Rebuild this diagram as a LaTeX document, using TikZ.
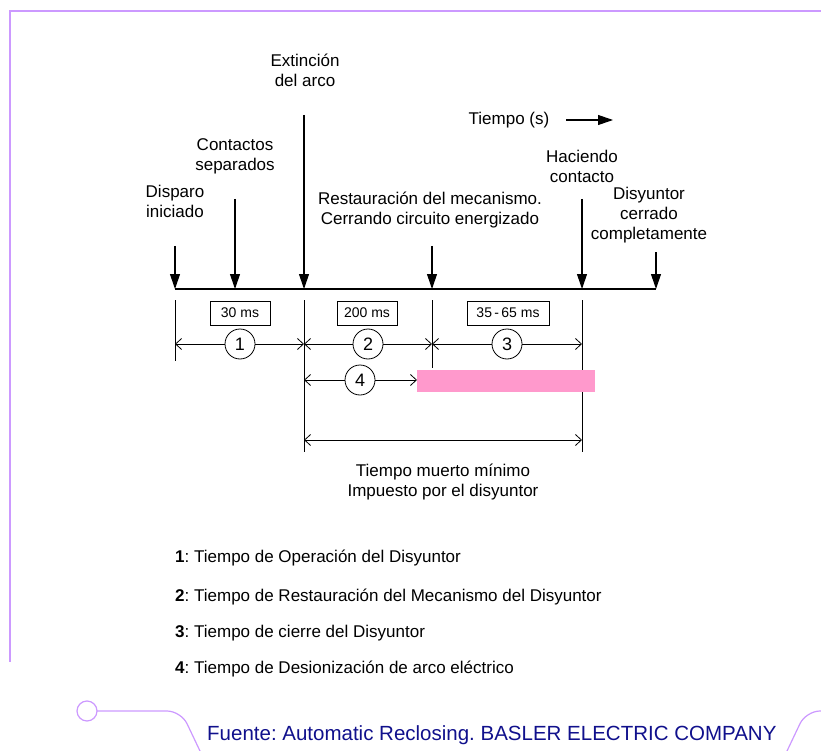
\documentclass[tikz,border=0pt]{standalone}
\usepackage{fontspec}
\setmainfont{Liberation Sans}
\frenchspacing
\usetikzlibrary{arrows.meta}
\definecolor{marco}{RGB}{204,153,255}
\definecolor{rosa}{RGB}{255,153,204}
\definecolor{fuente}{RGB}{16,16,140}
\tikzset{
  evento/.style={-{Triangle[width=10pt,length=15pt]}, line width=1.1pt},
  cota/.style={{Straight Barb[length=6pt,width=11pt]}-{Straight Barb[length=6pt,width=11pt]}, line width=0.8pt},
  guia/.style={line width=1pt},
  rotulo/.style={align=center, inner sep=0pt, font=\fontsize{17}{20}\selectfont},
  caja/.style={draw, line width=0.8pt, minimum height=24pt, inner sep=0pt, font=\fontsize{14}{16}\selectfont},
  numero/.style={draw, circle, fill=white, minimum size=30pt, inner sep=0pt, line width=0.8pt, font=\fontsize{18}{20}\selectfont},
  lista/.style={anchor=north west, inner sep=0pt, font=\fontsize{17}{20}\selectfont},
}
\begin{document}
\begin{tikzpicture}[x=1pt, y=-1pt]
    \useasboundingbox (0,0) rectangle (821,751);

    % Marco
    \draw[marco, line width=1.2pt] (821,11) -- (10,11) -- (10,662);
    \draw[marco, line width=1.2pt] (87,711) circle (10);
    \draw[marco, line width=1.2pt, rounded corners=14pt] (97,711) -- (181,711) -- (200,751);
    \draw[marco, line width=1.2pt, rounded corners=14pt] (787,751) -- (806,711) -- (821,711);

    % Eje de tiempo
    \coordinate (p0) at (175,289);
    \coordinate (p1) at (235,289);
    \coordinate (p2) at (304,289);
    \coordinate (p3) at (432,289);
    \coordinate (p4) at (582,289);
    \coordinate (p5) at (656,289);
    \draw[line width=2.4pt] (p0) -- (p5);

    % Disparo iniciado
    \coordinate (a0) at (175,246);
    \draw[evento] (a0) -- (p0);
    \node[rotulo, anchor=north] (disparo) at (175,185) {Disparo\\iniciado};

    % Contactos separados
    \coordinate (a1) at (235,199);
    \draw[evento] (a1) -- (p1);
    \node[rotulo, anchor=north] (contactos) at (235,138) {Contactos\\separados};

    % Extincion del arco
    \coordinate (a2) at (304,115);
    \draw[evento] (a2) -- (p2);
    \node[rotulo, anchor=north] (extincion) at (305,54) {Extinción\\del arco};

    % Restauracion del mecanismo
    \coordinate (a3) at (432,246);
    \draw[evento] (a3) -- (p3);
    \node[rotulo, anchor=north] (restauracion) at (430,192) {Restauración del mecanismo.\\Cerrando circuito energizado};

    % Haciendo contacto
    \coordinate (a4) at (582,199);
    \draw[evento] (a4) -- (p4);
    \node[rotulo, anchor=north] (haciendo) at (582,150) {Haciendo\\contacto};

    % Disyuntor cerrado
    \coordinate (a5) at (656,252);
    \draw[evento] (a5) -- (p5);
    \node[rotulo, anchor=north] (cerrado) at (649,187) {Disyuntor\\cerrado\\completamente};

    % Tiempo (s)
    \node[rotulo, anchor=north] (tiempo) at (509,112) {Tiempo (s)};
    \coordinate (t0) at (566,120);
    \coordinate (t1) at (613,120);
    \draw[evento] (t0) -- (t1);

    % Lineas guia
    \draw[guia] (175,300) -- (175,361);
    \draw[guia] (304,300) -- (304,452);
    \draw[guia] (432,300) -- (432,368);
    \draw[guia] (582,300) -- (582,452);

    % Tiempos
    \node[caja, minimum width=60pt] (c1) at (240,313) {30 ms};
    \node[caja, minimum width=60pt] (c2) at (367,313) {200 ms};
    \node[caja, minimum width=82pt] (c3) at (508,313) {35\,-\,65 ms};

    % Cotas 1, 2 y 3
    \coordinate (d0) at (175,344);
    \coordinate (d1) at (304,344);
    \coordinate (d2) at (432,344);
    \coordinate (d3) at (582,344);
    \draw[cota] (d0) -- (d1);
    \draw[cota] (d1) -- (d2);
    \draw[cota] (d2) -- (d3);
    \node[numero] (n1) at (240,344) {1};
    \node[numero] (n2) at (368,344) {2};
    \node[numero] (n3) at (507,344) {3};

    % Cota 4 y desionizacion
    \fill[rosa] (417,370) rectangle (595,392);
    \coordinate (d4) at (304,380);
    \coordinate (d5) at (417,380);
    \draw[cota] (d4) -- (d5);
    \node[numero] (n4) at (360,380) {4};

    % Tiempo muerto
    \coordinate (m0) at (304,440);
    \coordinate (m1) at (582,440);
    \draw[cota] (m0) -- (m1);
    \node[rotulo, anchor=north] (muerto) at (443,464) {Tiempo muerto mínimo\\Impuesto por el disyuntor};

    % Leyenda
    \node[lista] (l1) at (175,550) {\textbf{1}: Tiempo de Operación del Disyuntor};
    \node[lista] (l2) at (175,589) {\textbf{2}: Tiempo de Restauración del Mecanismo del Disyuntor};
    \node[lista] (l3) at (175,625) {\textbf{3}: Tiempo de cierre del Disyuntor};
    \node[lista] (l4) at (175,661) {\textbf{4}: Tiempo de Desionización de arco eléctrico};

    % Fuente
    \node[anchor=north west, inner sep=0pt, text=fuente, font=\fontsize{20.5}{24}\selectfont] (fuente) at (207,725) {Fuente: Automatic Reclosing. BASLER ELECTRIC COMPANY};
\end{tikzpicture}
\end{document}
